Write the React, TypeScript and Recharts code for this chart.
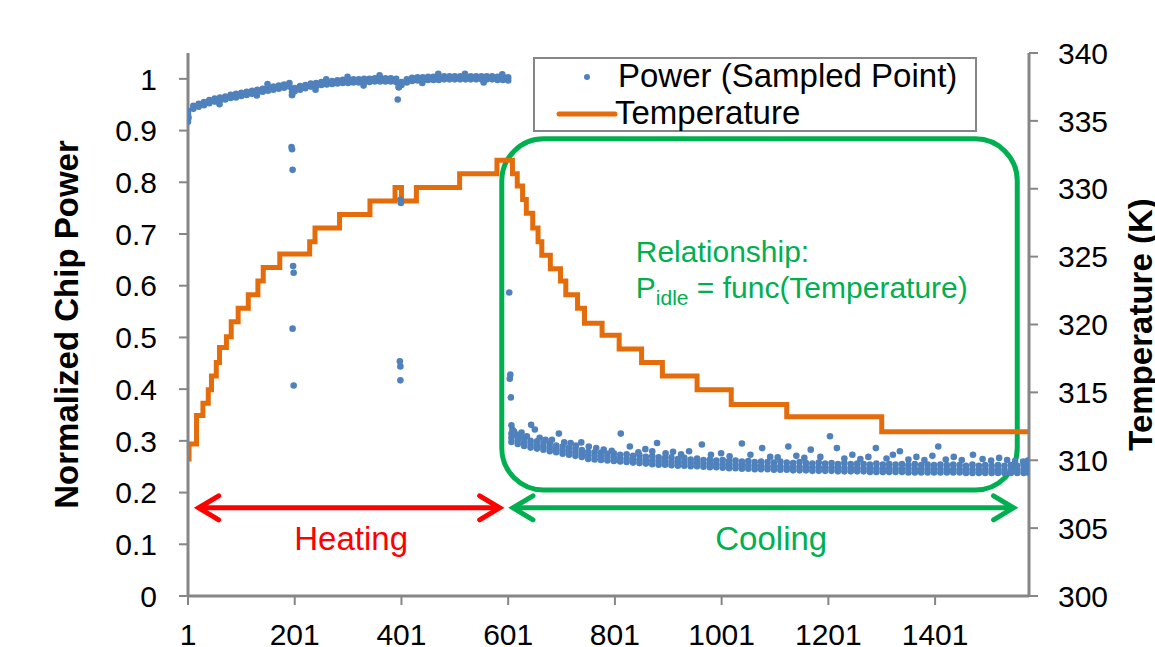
import React from 'react';
import {
  ComposedChart, Scatter, Line, XAxis, YAxis, Legend, ReferenceArea, ReferenceLine,
} from 'recharts';

const FONT = '"Liberation Sans", Arial, sans-serif';
const POWER_COLOR = '#4F81BD';
const TEMP_COLOR = '#E46C0A';
const GREEN = '#00B050';
const AXIS_GREY = '#868686';

const POWER_NAME = 'Power (Sampled Point)';
const TEMP_NAME = 'Temperature';

const xTicks = [1, 201, 401, 601, 801, 1001, 1201, 1401];
const powerTicks = [0, 0.1, 0.2, 0.3, 0.4, 0.5, 0.6, 0.7, 0.8, 0.9, 1];
const tempTicks = [300, 305, 310, 315, 320, 325, 330, 335, 340];

// temperature (K): [sample where the step starts, value]
const temperatureSteps: [number, number][] = [
  [1, 310.1], [3, 311.2], [17, 313.3], [29, 314.2], [39, 315.2], [45, 316.2], [54, 317.2],
  [60, 318.3], [73, 319.1], [82, 320.2], [95, 321.2], [114, 322.2], [132, 323.2], [142, 324.2],
  [173, 325.2], [229, 326.1], [239, 327.1], [285, 328.1], [342, 329.1], [389, 330.1], [401, 329.1],
  [429, 330.1], [510, 331.1], [580, 332.1], [609, 331.1], [618, 330.2], [628, 329.2], [635, 328.2],
  [647, 327.1], [657, 326.1], [664, 325.1], [680, 324.1], [699, 323.2], [709, 322.2], [731, 321.2],
  [744, 320.1], [777, 319.2], [809, 318.2], [851, 317.2], [890, 316.2], [955, 315.2], [1019, 314.1],
  [1123, 313.2], [1301, 312.1], [1577, 312.1],
];

// heating phase power band: [sample, upper, lower]
const heatingBand: [number, number, number][] = [
  [1, .938, .932], [11, .948, .942], [21, .952, .946], [31, .955, .949], [41, .959, .953],
  [51, .962, .956], [61, .964, .958], [71, .966, .960], [81, .969, .963], [91, .971, .964],
  [101, .973, .967], [111, .975, .969], [121, .977, .971], [131, .979, .973], [141, .981, .975],
  [151, .983, .977], [161, .985, .979], [171, .987, .981], [181, .989, .983], [191, .992, .985],
  [196, .975, .969], [201, .982, .976], [211, .986, .979], [221, .988, .982], [231, .991, .985],
  [241, .992, .986], [251, .994, .988], [261, .995, .989], [271, .996, .990], [281, .997, .991],
  [291, .998, .992], [301, .998, .992], [311, .999, .993], [321, .999, .993], [331, 1.000, .994],
  [341, 1.000, .994], [351, 1.001, .995], [361, 1.001, .995], [371, 1.001, .995], [381, 1.001, .995],
  [391, 1.000, .994], [396, .990, .984], [401, .994, .988], [411, .999, .993], [421, 1.002, .996],
  [431, 1.003, .997], [441, 1.003, .997], [451, 1.004, .998], [461, 1.004, .998], [471, 1.004, .998],
  [481, 1.005, .999], [491, 1.005, .999], [501, 1.005, .999], [511, 1.005, .999], [521, 1.005, .999],
  [531, 1.005, .999], [541, 1.005, .999], [551, 1.005, .999], [561, 1.005, .999], [571, 1.005, .999],
  [581, 1.004, .998], [591, 1.004, .998], [601, 1.003, .997],
];

const heatingStray: [number, number][] = [
  [1, .917], [2, .925], [195, .868], [196, .864], [197, .824], [196, .969], [198, .638], [199, .625],
  [197, .517], [199, .407], [394, .96], [396, .984], [399, .766], [400, .76], [398, .454], [399, .444],
  [399, .417], [60, .951], [130, .968], [150, .99], [240, .979], [260, .999], [300, 1.004], [330, .987],
  [360, 1.007], [440, .992], [470, 1.01], [520, 1.01], [555, .993], [590, 1.009],
];

// cooling phase power band: [sample, upper, middle, lower]
const coolingBand: [number, number, number, number][] = [
  [607, .314, .306, .298], [619, .308, .301, .294], [631, .305, .297, .290], [643, .300, .294, .287],
  [655, .299, .291, .285], [667, .296, .289, .283], [679, .295, .287, .280], [691, .291, .284, .278],
  [703, .289, .282, .275], [715, .287, .280, .273], [727, .285, .278, .271], [739, .282, .275, .269],
  [751, .279, .272, .265], [763, .278, .271, .264], [775, .277, .269, .263], [787, .275, .269, .262],
  [799, .276, .268, .261], [811, .273, .266, .260], [823, .274, .266, .259], [835, .271, .264, .258],
  [847, .272, .264, .257], [859, .269, .262, .256], [871, .270, .262, .255], [883, .268, .261, .254],
  [895, .267, .260, .254], [907, .268, .260, .253], [919, .265, .258, .252], [931, .267, .259, .252],
  [943, .264, .257, .251], [955, .266, .258, .251], [967, .263, .256, .250], [979, .264, .256, .249],
  [991, .262, .255, .249], [1003, .263, .255, .248], [1015, .261, .254, .247], [1027, .262, .254, .247],
  [1039, .260, .253, .246], [1051, .261, .253, .246], [1063, .259, .252, .245], [1075, .260, .252, .245],
  [1087, .259, .251, .245], [1099, .258, .251, .244], [1111, .260, .251, .244], [1123, .258, .250, .244],
  [1135, .257, .250, .243], [1147, .259, .250, .243], [1159, .257, .249, .243], [1171, .256, .249, .242],
  [1183, .258, .249, .242], [1195, .256, .248, .242], [1207, .257, .249, .242], [1219, .255, .248, .241],
  [1231, .257, .248, .241], [1243, .255, .247, .241], [1255, .256, .248, .241], [1267, .255, .247, .241],
  [1279, .254, .247, .240], [1291, .256, .247, .240], [1303, .254, .246, .240], [1315, .255, .247, .240],
  [1327, .254, .246, .240], [1339, .255, .246, .240], [1351, .253, .246, .239], [1363, .255, .246, .239],
  [1375, .253, .245, .239], [1387, .254, .246, .239], [1399, .253, .245, .239], [1411, .254, .246, .239],
  [1423, .253, .245, .239], [1435, .254, .245, .239], [1447, .253, .245, .239], [1459, .252, .245, .238],
  [1471, .254, .245, .238], [1483, .252, .244, .238], [1495, .253, .245, .238], [1507, .252, .244, .238],
  [1519, .253, .245, .238], [1531, .252, .244, .238], [1543, .253, .244, .238], [1555, .252, .244, .238],
  [1567, .253, .245, .238], [1577, .252, .244, .238],
];

const coolingStray: [number, number][] = [
  [603, .587], [605, .428], [604, .42], [606, .384], [607, .33], [609, .322], [612, .318], [616, .312],
  [622, .31], [626, .316], [636, .309], [644, .331], [651, .322], [660, .306], [671, .302], [683, .302],
  [696, .314], [706, .297], [718, .296], [728, .291], [738, .297], [752, .289], [766, .286], [780, .283],
  [795, .281], [812, .314], [829, .289], [845, .278], [858, .284], [871, .28], [880, .296], [896, .276],
  [910, .279], [925, .274], [940, .28], [964, .293], [981, .273], [1000, .276], [1016, .27], [1039, .295],
  [1055, .273], [1077, .286], [1092, .269], [1106, .268], [1126, .289], [1141, .271], [1156, .267],
  [1168, .283], [1186, .269], [1204, .309], [1217, .286], [1231, .266], [1246, .273], [1261, .265],
  [1276, .269], [1290, .286], [1310, .266], [1322, .273], [1335, .28], [1351, .264], [1366, .269],
  [1381, .263], [1396, .271], [1407, .289], [1421, .264], [1436, .269], [1451, .263], [1472, .273],
  [1490, .265], [1506, .262], [1521, .267], [1536, .263], [1551, .261], [1566, .26], [1575, .262],
];

const powerPoints = [
  ...heatingBand.flatMap(([x, ...ps]) => ps.map((p) => ({ x, p }))),
  ...coolingBand.flatMap(([x, ...ps]) => ps.map((p) => ({ x, p }))),
  ...heatingStray.map(([x, p]) => ({ x, p })),
  ...coolingStray.map(([x, p]) => ({ x, p })),
];

const temperaturePoints = temperatureSteps.map(([x, t]) => ({ x, t }));

const Dot = (props: any) => <circle cx={props.cx} cy={props.cy} r={3.3} fill={POWER_COLOR} />;

function Arrow(props: any) {
  const { x1, y1, x2, color, text, dx = 0 } = props;
  if (x1 == null) return null;
  const len = 20;
  const spread = 12;
  return (
    <g>
      <line x1={x1} y1={y1} x2={x2} y2={y1} stroke={color} strokeWidth={5} />
      <polyline
        points={`${x1 + len},${y1 - spread} ${x1},${y1} ${x1 + len},${y1 + spread}`}
        fill="none" stroke={color} strokeWidth={5} strokeLinecap="round"
      />
      <polyline
        points={`${x2 - len},${y1 - spread} ${x2},${y1} ${x2 - len},${y1 + spread}`}
        fill="none" stroke={color} strokeWidth={5} strokeLinecap="round"
      />
      <text x={(x1 + x2) / 2 + dx} y={y1 + 42} textAnchor="middle" fill={color} fontSize={33}>
        {text}
      </text>
    </g>
  );
}

function RelationshipBox(props: any) {
  const { x, y, width, height } = props;
  if (x == null) return null;
  return (
    <g>
      <rect x={x} y={y} width={width} height={height} rx={42} ry={42}
        fill="none" stroke={GREEN} strokeWidth={5} />
      <text x={x + 134} y={y + 123} fill={GREEN} fontSize={30}>Relationship:</text>
      <text x={x + 134} y={y + 159} fill={GREEN} fontSize={30}>
        P<tspan fontSize={21} dy={7}>idle</tspan><tspan dy={-7}> = func(Temperature)</tspan>
      </text>
    </g>
  );
}

const LegendBox = () => (
  <div style={{
    position: 'relative', width: 444, height: 75, boxSizing: 'border-box',
    border: `2px solid ${AXIS_GREY}`, background: '#fff', fontSize: 33, color: '#000',
  }}>
    <svg width={90} height={75} style={{ position: 'absolute', left: 0, top: 0 }}>
      <circle cx={52} cy={18} r={3} fill={POWER_COLOR} />
      <line x1={24} y1={55} x2={80} y2={55} stroke={TEMP_COLOR} strokeWidth={5} strokeLinecap="round" />
    </svg>
    <span style={{ position: 'absolute', left: 83, top: -2, lineHeight: '37px', whiteSpace: 'nowrap' }}>{POWER_NAME}</span>
    <span style={{ position: 'absolute', left: 80, top: 35, lineHeight: '37px', whiteSpace: 'nowrap' }}>{TEMP_NAME}</span>
  </div>
);

const leftTitle = (p: any) => {
  const vb = p.viewBox;
  const tx = vb.x - 10;
  const ty = vb.y + vb.height / 2;
  return (
    <text x={tx} y={ty} transform={`rotate(-90 ${tx} ${ty})`} textAnchor="middle"
      fontWeight="bold" fontSize={33} fill="#000">Normalized Chip Power</text>
  );
};

const rightTitle = (p: any) => {
  const vb = p.viewBox;
  const tx = vb.x + 123;
  const ty = vb.y + vb.height / 2;
  return (
    <text x={tx} y={ty} transform={`rotate(-90 ${tx} ${ty})`} textAnchor="middle"
      fontWeight="bold" fontSize={33} fill="#000">Temperature (K)</text>
  );
};

export default function App() {
  const axisLine = { stroke: AXIS_GREY, strokeWidth: 3 };
  const tickLine = { stroke: AXIS_GREY, strokeWidth: 2 };
  const tick = { fill: '#000', fontSize: 30 };
  return (
    <div style={{ position: 'absolute', left: 0, top: 0, width: 1155, height: 647, background: '#fff', fontFamily: FONT }}>
      <ComposedChart width={1155} height={647} margin={{ top: 53, right: 26, bottom: 11, left: 88 }}>
        <XAxis
          type="number" dataKey="x" domain={[1, 1577]} ticks={xTicks} allowDataOverflow
          axisLine={axisLine} tickLine={tickLine} tick={tick} tickSize={9} tickMargin={19} height={40}
          interval={0}
        />
        <YAxis
          yAxisId="left" type="number" domain={[0, 1.05]} ticks={powerTicks} allowDataOverflow
          axisLine={axisLine} tickLine={tickLine} tick={tick} tickSize={9} tickMargin={22} width={100}
          interval={0} label={leftTitle}
        />
        <YAxis
          yAxisId="right" orientation="right" type="number" domain={[300, 340]} ticks={tempTicks}
          axisLine={axisLine} tickLine={tickLine} tick={tick} tickSize={9} tickMargin={20} width={100}
          interval={0} label={rightTitle}
        />
        <Legend layout="horizontal" verticalAlign="middle" align="center"
          wrapperStyle={{ left: 533, top: 57, width: 444, height: 75 }} content={LegendBox} />
        <Line
          yAxisId="right" data={temperaturePoints} dataKey="t" name={TEMP_NAME} type="stepAfter"
          stroke={TEMP_COLOR} strokeWidth={5} dot={false} activeDot={false} isAnimationActive={false}
        />
        <Scatter
          yAxisId="left" data={powerPoints} dataKey="p" name={POWER_NAME} fill={POWER_COLOR}
          shape={Dot} isAnimationActive={false}
        />
        <ReferenceArea yAxisId="left" x1={589} x2={1555} y1={0.205} y2={0.884} shape={RelationshipBox} />
        <ReferenceLine yAxisId="left" segment={[{ x: 21, y: 0.1705 }, { x: 585, y: 0.1705 }]}
          shape={(p: any) => <Arrow {...p} color="#FF0000" text="Heating" dx={2} />} />
        <ReferenceLine yAxisId="left" segment={[{ x: 610, y: 0.1705 }, { x: 1548, y: 0.1705 }]}
          shape={(p: any) => <Arrow {...p} color={GREEN} text="Cooling" dx={8} />} />
      </ComposedChart>
    </div>
  );
}
